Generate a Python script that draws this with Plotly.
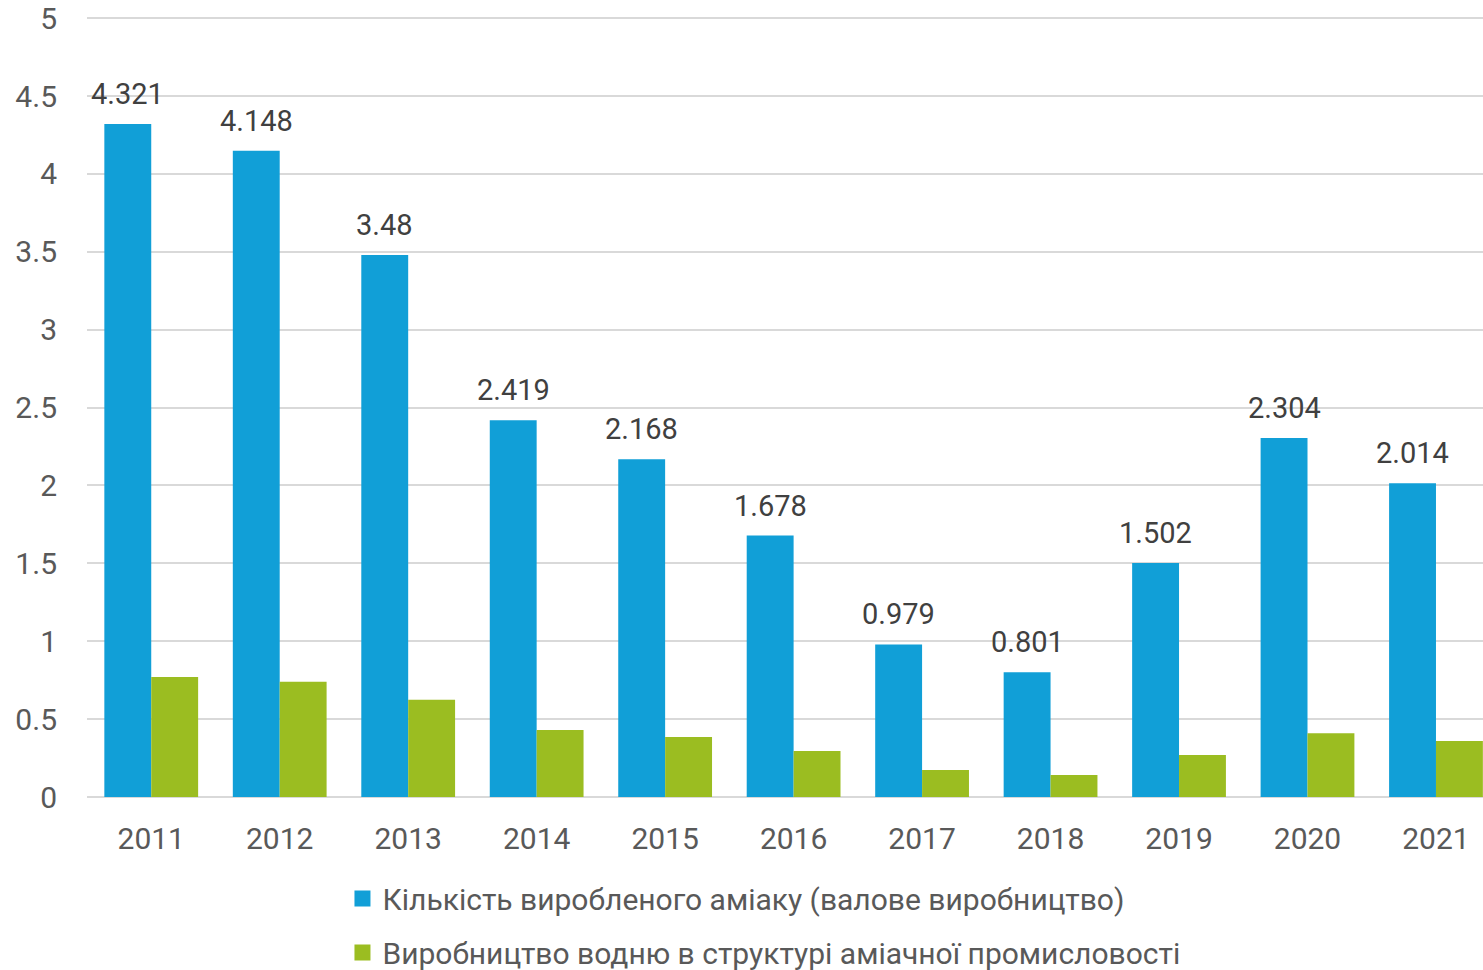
import plotly.graph_objects as go

years = ["2011", "2012", "2013", "2014", "2015", "2016", "2017", "2018", "2019", "2020", "2021"]
ammonia = [4.321, 4.148, 3.48, 2.419, 2.168, 1.678, 0.979, 0.801, 1.502, 2.304, 2.014]
hydrogen = [0.77, 0.74, 0.625, 0.43, 0.385, 0.295, 0.173, 0.141, 0.27, 0.41, 0.36]
names = ["Кількість виробленого аміаку (валове виробництво)",
         "Виробництво водню в структурі аміачної промисловості"]
colors = ["#119FD7", "#9BBD21"]

FONT = "Roboto"
fig = go.Figure()
fig.add_trace(go.Bar(
    x=years, y=ammonia, name=names[0], marker_color=colors[0],
    marker_line_width=0, showlegend=False,
))
fig.add_trace(go.Bar(
    x=years, y=hydrogen, name=names[1], marker_color=colors[1],
    marker_line_width=0, showlegend=False,
))
for i, (n, c) in enumerate(zip(names, colors)):
    fig.add_trace(go.Scatter(
        x=[years[0]], y=[None], mode="markers", name=n, legendgroup=str(i),
        marker=dict(symbol="square", size=17, color=c), hoverinfo="skip",
    ))
for i, v in enumerate(ammonia):
    fig.add_annotation(x=i, y=v, xref="x", yref="y", text=f"{v:g}",
                       showarrow=False, yanchor="bottom", xanchor="center",
                       xshift=-23.5, yshift=11,
                       font=dict(family=FONT, size=29, color="#404040"))
fig.update_layout(
    autosize=False, width=1483, height=1010,
    margin=dict(l=87, r=0, t=15, b=213),
    paper_bgcolor="white", plot_bgcolor="white",
    barmode="group", bargap=0.27, bargroupgap=0,
    font=dict(family=FONT, size=30, color="#595959"),
    legend=dict(orientation="v", x=0.183, xanchor="left", y=-0.0965, yanchor="top",
                font=dict(family=FONT, size=30, color="#595959"),
                tracegroupgap=12, itemwidth=30),
    showlegend=True,
)
fig.update_xaxes(type="category", range=[-0.5, 10.366], showgrid=False, showline=False, ticks="",
                 automargin=False, ticklabelstandoff=21,
                 tickfont=dict(family=FONT, size=30, color="#595959"))
fig.update_yaxes(range=[0, 5.02], dtick=0.5, showgrid=True, gridcolor="#D9D9D9", gridwidth=2,
                 zeroline=True, zerolinecolor="#D9D9D9", zerolinewidth=2, automargin=False,
                 tickfont=dict(family=FONT, size=30, color="#595959"), ticklabelstandoff=29)
fig.write_html("out.html", config={"responsive": False, "displayModeBar": False},
               post_script="document.body.style.margin='0';document.documentElement.style.overflow='hidden';")
